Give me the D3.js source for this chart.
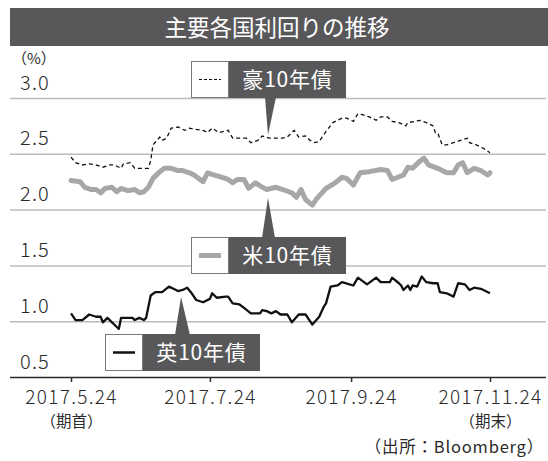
<!DOCTYPE html>
<html><head><meta charset="utf-8">
<script src="https://cdn.jsdelivr.net/npm/d3@7"></script>
<style>
body{margin:0;background:#fff}
svg{display:block}
text{font-family:"Noto Sans CJK JP","Noto Sans",sans-serif}
</style>
</head><body>
<svg id="chart" width="548" height="461"></svg>
<script>
// Titles and tick labels
const titleText = "主要各国利回りの推移";
const unitLabel = "（%）";
const sourceLabel = "（出所：Bloomberg）";
const yTicks = [0.5, 1.0, 1.5, 2.0, 2.5, 3.0];
const xTickDates = ["2017-05-24", "2017-07-24", "2017-09-24", "2017-11-24"];
const xTickLabels = ["2017.5.24", "2017.7.24", "2017.9.24", "2017.11.24"];
const xTickNotes = ["（期首）", "", "", "（期末）"];
const seriesNames = ["豪10年債", "米10年債", "英10年債"];

// Australia 10y yield (%)
const auDates = ["2017-05-24","2017-05-26","2017-05-29","2017-06-01","2017-06-04","2017-06-07","2017-06-10","2017-06-12","2017-06-15","2017-06-16","2017-06-19","2017-06-21","2017-06-24","2017-06-27","2017-06-28","2017-06-29","2017-07-02","2017-07-03","2017-07-05","2017-07-07","2017-07-10","2017-07-13","2017-07-15","2017-07-17","2017-07-21","2017-07-23","2017-07-25","2017-07-28","2017-08-01","2017-08-03","2017-08-06","2017-08-09","2017-08-11","2017-08-14","2017-08-16","2017-08-19","2017-08-22","2017-08-25","2017-08-27","2017-08-30","2017-09-01","2017-09-04","2017-09-06","2017-09-08","2017-09-10","2017-09-13","2017-09-16","2017-09-18","2017-09-20","2017-09-22","2017-09-25","2017-09-27","2017-09-29","2017-10-02","2017-10-05","2017-10-07","2017-10-10","2017-10-12","2017-10-15","2017-10-18","2017-10-19","2017-10-22","2017-10-24","2017-10-27","2017-10-30","2017-10-31","2017-11-01","2017-11-03","2017-11-05","2017-11-08","2017-11-11","2017-11-14","2017-11-15","2017-11-18","2017-11-21","2017-11-24"];
const auValues = [2.47,2.42,2.40,2.41,2.40,2.38,2.40,2.40,2.37,2.41,2.42,2.37,2.37,2.37,2.44,2.58,2.65,2.62,2.64,2.73,2.74,2.71,2.73,2.72,2.71,2.69,2.73,2.69,2.71,2.64,2.64,2.64,2.60,2.62,2.66,2.64,2.64,2.64,2.65,2.71,2.65,2.66,2.62,2.60,2.61,2.70,2.78,2.80,2.82,2.82,2.79,2.86,2.85,2.83,2.80,2.83,2.83,2.79,2.78,2.75,2.78,2.79,2.80,2.78,2.75,2.69,2.69,2.58,2.58,2.60,2.62,2.64,2.60,2.58,2.55,2.51];

// US 10y yield (%)
const usDates = ["2017-05-24","2017-05-28","2017-05-30","2017-06-02","2017-06-04","2017-06-06","2017-06-08","2017-06-11","2017-06-13","2017-06-15","2017-06-18","2017-06-21","2017-06-23","2017-06-25","2017-06-27","2017-06-29","2017-07-02","2017-07-04","2017-07-07","2017-07-10","2017-07-12","2017-07-15","2017-07-17","2017-07-21","2017-07-23","2017-07-26","2017-07-29","2017-08-01","2017-08-03","2017-08-05","2017-08-08","2017-08-10","2017-08-13","2017-08-16","2017-08-18","2017-08-22","2017-08-25","2017-08-29","2017-08-31","2017-09-02","2017-09-04","2017-09-07","2017-09-09","2017-09-13","2017-09-17","2017-09-20","2017-09-22","2017-09-25","2017-09-28","2017-10-02","2017-10-07","2017-10-10","2017-10-12","2017-10-17","2017-10-19","2017-10-21","2017-10-24","2017-10-26","2017-10-28","2017-11-01","2017-11-05","2017-11-08","2017-11-10","2017-11-12","2017-11-14","2017-11-17","2017-11-20","2017-11-23","2017-11-24"];
const usValues = [2.26,2.25,2.20,2.18,2.18,2.15,2.19,2.20,2.16,2.19,2.17,2.18,2.15,2.16,2.20,2.28,2.34,2.37,2.37,2.35,2.35,2.33,2.31,2.25,2.33,2.31,2.29,2.27,2.24,2.27,2.27,2.19,2.24,2.20,2.18,2.20,2.18,2.15,2.11,2.18,2.09,2.04,2.10,2.19,2.24,2.29,2.28,2.22,2.33,2.34,2.36,2.35,2.27,2.31,2.38,2.37,2.43,2.46,2.40,2.37,2.33,2.33,2.40,2.42,2.33,2.37,2.35,2.31,2.33];

// UK 10y yield (%)
const ukDates = ["2017-05-24","2017-05-26","2017-05-29","2017-06-01","2017-06-04","2017-06-06","2017-06-07","2017-06-09","2017-06-11","2017-06-12","2017-06-14","2017-06-15","2017-06-17","2017-06-20","2017-06-21","2017-06-23","2017-06-25","2017-06-26","2017-06-28","2017-06-30","2017-07-03","2017-07-06","2017-07-08","2017-07-10","2017-07-12","2017-07-14","2017-07-16","2017-07-18","2017-07-21","2017-07-24","2017-07-25","2017-07-27","2017-07-31","2017-08-01","2017-08-03","2017-08-06","2017-08-08","2017-08-11","2017-08-15","2017-08-16","2017-08-18","2017-08-20","2017-08-22","2017-08-24","2017-08-27","2017-08-29","2017-09-01","2017-09-04","2017-09-07","2017-09-10","2017-09-12","2017-09-13","2017-09-15","2017-09-18","2017-09-20","2017-09-25","2017-09-27","2017-10-01","2017-10-05","2017-10-07","2017-10-11","2017-10-12","2017-10-15","2017-10-16","2017-10-17","2017-10-19","2017-10-20","2017-10-21","2017-10-23","2017-10-25","2017-10-27","2017-10-30","2017-11-01","2017-11-02","2017-11-05","2017-11-08","2017-11-10","2017-11-13","2017-11-15","2017-11-17","2017-11-20","2017-11-22","2017-11-24"];
const ukValues = [1.07,1.01,1.01,1.06,1.04,1.04,0.99,1.03,0.99,0.97,0.93,1.03,1.03,1.03,1.01,1.03,1.01,1.03,1.23,1.26,1.26,1.31,1.29,1.27,1.28,1.30,1.25,1.19,1.17,1.20,1.25,1.21,1.22,1.22,1.16,1.15,1.12,1.07,1.07,1.10,1.09,1.07,1.09,1.06,1.06,0.99,1.06,1.06,0.97,1.04,1.13,1.16,1.31,1.32,1.35,1.32,1.39,1.33,1.39,1.35,1.35,1.39,1.34,1.32,1.28,1.32,1.28,1.32,1.31,1.40,1.35,1.34,1.34,1.26,1.25,1.22,1.34,1.33,1.28,1.30,1.29,1.27,1.25];

const parse = d3.timeParse("%Y-%m-%d");
const zip = (ds, vs) => ds.map((d, i) => ({ date: parse(d), value: vs[i] }));
const au = zip(auDates, auValues);
const us = zip(usDates, usValues);
const uk = zip(ukDates, ukValues);

const svg = d3.select("#chart");
const dark = "#58585a";
const ink = "#2a2a2a";
const usGrey = "#a7a7a9";
const font = '"Noto Sans CJK JP", "Noto Sans", sans-serif';

const x = d3.scaleTime()
  .domain([parse(xTickDates[0]), parse(xTickDates[xTickDates.length - 1])])
  .range([71, 490]);
const y = d3.scaleLinear().domain([0.5, 3.0]).range([377, 98]);

// Title bar
svg.append("rect").attr("x", 10).attr("y", 8).attr("width", 538).attr("height", 38).attr("fill", dark);
svg.append("text").attr("x", 277).attr("y", 36).attr("text-anchor", "middle")
  .attr("fill", "#fff").attr("font-size", 22.5).text(titleText);

// Horizontal gridlines with value labels above each line
const gy = svg.append("g").attr("transform", "translate(10,0)")
  .call(d3.axisRight(y).tickValues(yTicks).tickSize(536).tickFormat(d3.format(".1f")));
gy.select(".domain").remove();
gy.selectAll(".tick line").attr("stroke", d => d === 0.5 ? ink : "#bcbcbc").attr("stroke-width", 1.5);
gy.selectAll(".tick text").attr("x", 10).attr("dy", -9).attr("text-anchor", "start")
  .attr("fill", ink).attr("font-size", 20).attr("letter-spacing", 1.2).attr("font-weight", 300)
  .attr("font-family", font);
svg.append("text").attr("x", 12).attr("y", 64).attr("fill", ink).attr("font-size", 15).text(unitLabel);

// Date axis
const gx = svg.append("g").attr("transform", `translate(0,${y(0.5)})`)
  .call(d3.axisBottom(x).tickValues(xTickDates.map(parse)).tickSize(5).tickFormat(""));
gx.select(".domain").remove();
gx.selectAll(".tick line").attr("stroke", ink).attr("stroke-width", 1.5);
gx.selectAll(".tick").each(function (d, i) {
  const t = d3.select(this);
  t.append("text").attr("y", 27).attr("fill", ink).attr("text-anchor", "middle")
    .attr("font-family", font).attr("font-size", 19).attr("font-weight", 300)
    .attr("letter-spacing", 1.3).text(xTickLabels[i]);
  if (xTickNotes[i]) t.append("text").attr("y", 50).attr("fill", ink).attr("text-anchor", "middle")
    .attr("font-family", font).attr("font-size", 15.5).text(xTickNotes[i]);
});
svg.append("text").attr("x", 544).attr("y", 453).attr("text-anchor", "end")
  .attr("fill", ink).attr("font-size", 16.5).attr("letter-spacing", 0.8).text(sourceLabel);

// Yield lines
const line = d3.line().x(d => x(d.date)).y(d => y(d.value));
svg.append("path").datum(us).attr("d", line).attr("fill", "none")
  .attr("stroke", usGrey).attr("stroke-width", 5).attr("stroke-linejoin", "round").attr("stroke-linecap", "round");
svg.append("path").datum(au).attr("d", line).attr("fill", "none")
  .attr("stroke", "#111").attr("stroke-width", 1.3).attr("stroke-dasharray", "4,3");
svg.append("path").datum(uk).attr("d", line).attr("fill", "none")
  .attr("stroke", "#111").attr("stroke-width", 2.3).attr("stroke-linejoin", "round");

// Callout labels: swatch box + dark name box + pointer
function callout(bx, by, darkW, name, swatch, pointer) {
  const g = svg.append("g");
  g.append("path").attr("d", pointer).attr("fill", dark);
  g.append("rect").attr("x", bx + 0.5).attr("y", by + 0.5).attr("width", 37).attr("height", 36)
    .attr("fill", "#fff").attr("stroke", "#7a7a7a");
  g.append("rect").attr("x", bx + 38).attr("y", by).attr("width", darkW).attr("height", 37).attr("fill", dark);
  g.append("text").attr("x", bx + 38 + darkW / 2).attr("y", by + 26).attr("text-anchor", "middle")
    .attr("fill", "#fff").attr("font-size", 21).attr("letter-spacing", 0.8).text(name);
  swatch(g, bx, by + 18.5);
}
callout(191, 61, 117, seriesNames[0],
  (g, bx, cy) => g.append("line").attr("x1", bx + 8).attr("x2", bx + 30).attr("y1", cy).attr("y2", cy)
    .attr("stroke", "#111").attr("stroke-width", 1.2).attr("stroke-dasharray", "3,2"),
  "M265,97L276,97L268,135Z");
callout(191, 237, 117, seriesNames[1],
  (g, bx, cy) => g.append("line").attr("x1", bx + 8).attr("x2", bx + 30).attr("y1", cy).attr("y2", cy)
    .attr("stroke", usGrey).attr("stroke-width", 5),
  "M262,238L275,238L268,198Z");
callout(105, 334, 117, seriesNames[2],
  (g, bx, cy) => g.append("line").attr("x1", bx + 8).attr("x2", bx + 30).attr("y1", cy).attr("y2", cy)
    .attr("stroke", "#111").attr("stroke-width", 2.5),
  "M175,335L190,335L181,297Z");
</script>
</body></html>
